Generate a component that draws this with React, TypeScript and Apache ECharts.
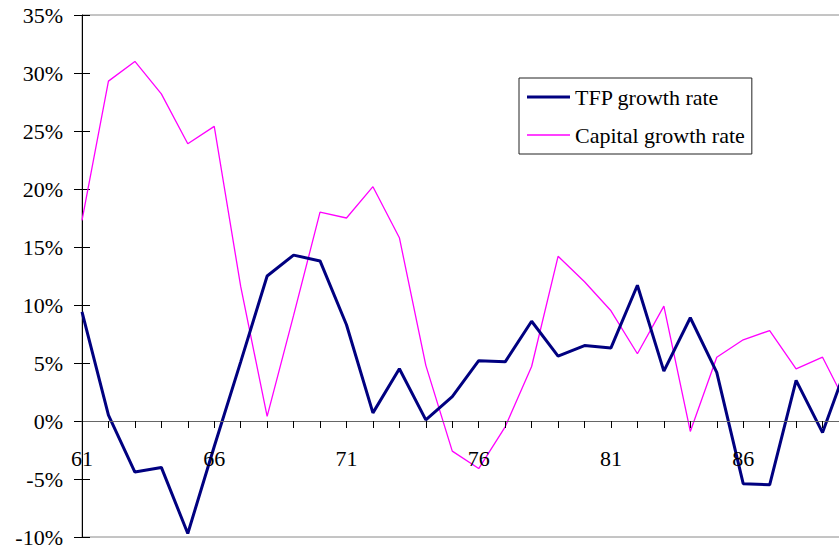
import React, { useEffect, useRef } from "react";
import * as echarts from "echarts";

const years = [
  "61", "62", "63", "64", "65", "66", "67", "68", "69", "70",
  "71", "72", "73", "74", "75", "76", "77", "78", "79", "80",
  "81", "82", "83", "84", "85", "86", "87", "88", "89", "90",
];

const tfpGrowth = [
  9.4, 0.5, -4.4, -4.0, -9.7, -2.2, 5.1, 12.5, 14.3, 13.8,
  8.3, 0.7, 4.5, 0.1, 2.1, 5.2, 5.1, 8.6, 5.6, 6.5,
  6.3, 11.7, 4.3, 8.9, 4.2, -5.4, -5.5, 3.5, -1.0, 5.3,
];

const capitalGrowth = [
  17.3, 29.3, 31.0, 28.2, 23.9, 25.4, 11.6, 0.4, 9.1, 18.0,
  17.5, 20.2, 15.8, 4.8, -2.6, -4.1, -0.5, 4.7, 14.2, 12.0,
  9.5, 5.8, 9.9, -0.9, 5.5, 7.0, 7.8, 4.5, 5.5, 1.0,
];

const yMin = -10;
const yMax = 35;
const yStep = 5;

const FONT = "Times New Roman";

export default function App() {
  const ref = useRef<HTMLDivElement>(null);

  useEffect(() => {
    if (!ref.current) return;
    const chart = echarts.init(ref.current, null, { renderer: "svg" });
    const yCommon = {
      type: "value" as const,
      min: yMin,
      max: yMax,
      interval: yStep,
      splitLine: { show: false },
    };
    const gridBox = { left: 82, width: 767, outerBoundsMode: "none", containLabel: false };
    const labelFont = { fontFamily: FONT, fontSize: 22, color: "#000" };
    chart.setOption({
      animation: false,
      backgroundColor: "#ffffff",
      textStyle: { fontFamily: FONT, fontSize: 22, color: "#000" },
      grid: [
        {
          ...gridBox,
          top: 15,
          height: 522,
          show: true,
          borderColor: "#8a8a8a",
          borderWidth: 1,
          backgroundColor: "transparent",
        },
        {
          ...gridBox,
          top: 15,
          height: 406,
          show: false,
        },
      ],
      legend: {
        left: 519,
        top: 78,
        orient: "vertical",
        padding: [8, 7, 8, 8],
        itemGap: 16,
        itemWidth: 43,
        itemHeight: 14,
        borderColor: "#222",
        borderWidth: 1,
        backgroundColor: "#ffffff",
        textStyle: labelFont,
        data: [
          { name: "TFP growth rate", icon: "path://M0 0H43V3H0Z" },
          { name: "Capital growth rate", icon: "path://M0 0H43V1.4H0Z" },
        ],
      },
      xAxis: [
        {
          type: "category",
          gridIndex: 0,
          data: years,
          boundaryGap: false,
          show: false,
        },
        {
          type: "category",
          gridIndex: 1,
          position: "bottom",
          data: years,
          boundaryGap: false,
          axisLine: { onZero: false, lineStyle: { color: "#666", width: 1 } },
          axisTick: {
            show: true,
            interval: 0,
            length: 7,
            lineStyle: { color: "#000" },
          },
          axisLabel: {
            ...labelFont,
            interval: 4,
            margin: 26,
          },
          splitLine: { show: false },
          z: 4,
        },
      ],
      yAxis: [
        {
          ...yCommon,
          gridIndex: 0,
          axisLine: { show: true, lineStyle: { color: "#000", width: 1 } },
          axisTick: { show: true, length: 8, lineStyle: { color: "#000" } },
          axisLabel: {
            ...labelFont,
            margin: 19,
            formatter: "{value}%",
          },
        },
        {
          ...yCommon,
          gridIndex: 0,
          position: "left",
          axisLine: { show: false },
          axisTick: {
            show: true,
            inside: true,
            length: 8,
            lineStyle: { color: "#000" },
          },
          axisLabel: { show: false },
        },
        {
          type: "value",
          gridIndex: 1,
          min: 0,
          max: 35,
          show: false,
        },
      ],
      series: [
        {
          name: "TFP growth rate",
          type: "line",
          xAxisIndex: 0,
          yAxisIndex: 0,
          data: tfpGrowth,
          symbol: "none",
          color: "#000080",
          lineStyle: { color: "#000080", width: 3 },
          z: 3,
        },
        {
          name: "Capital growth rate",
          type: "line",
          xAxisIndex: 0,
          yAxisIndex: 0,
          data: capitalGrowth,
          symbol: "none",
          color: "#ff00ff",
          lineStyle: { color: "#ff00ff", width: 1.3 },
          z: 2,
        },
      ],
    });
    return () => chart.dispose();
  }, []);

  return (
    <div
      ref={ref}
      style={{ position: "absolute", left: 0, top: 0, width: 839, height: 550 }}
    />
  );
}
